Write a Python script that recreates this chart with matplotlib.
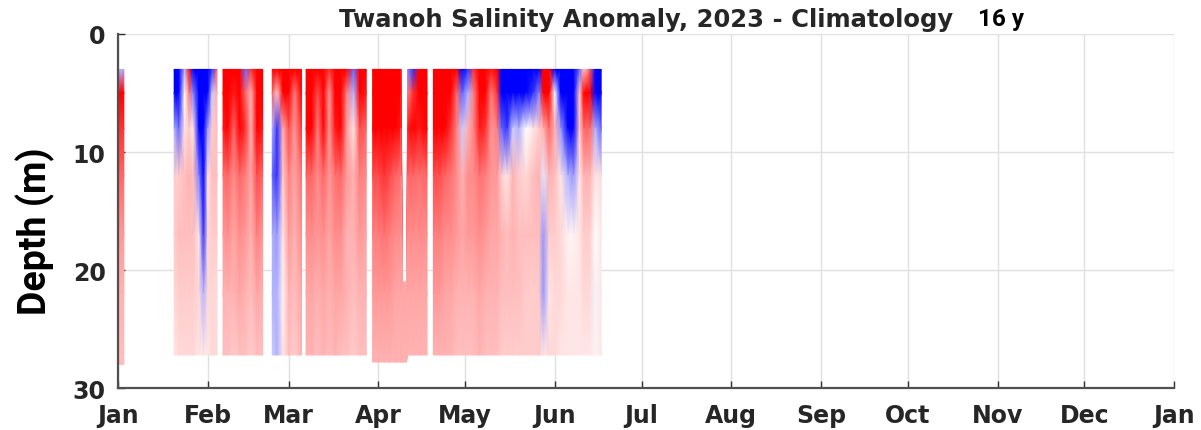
import numpy as np
import matplotlib.pyplot as plt
from matplotlib.colors import LinearSegmentedColormap

# --- axes labelling ---
month_days = [0, 31, 59, 90, 120, 151, 181, 212, 243, 273, 304, 334, 365]
month_labels = ['Jan', 'Feb', 'Mar', 'Apr', 'May', 'Jun', 'Jul',
                'Aug', 'Sep', 'Oct', 'Nov', 'Dec', 'Jan']
depth_ticks = [0, 10, 20, 30]

# --- profiles (day of year, anomaly at depth levels) ---
depth_levels = [3, 5, 8, 12, 17, 22, 27.5]   # last level is replaced by profile bottom

prof_day = [0.0, 2.0,
            19.4, 21.0, 23.0, 24.5, 26.0, 28.0, 29.5, 31.0, 32.5, 34.2,
            36.3, 38.0, 40.0, 42.0, 44.0, 46.0, 48.0, 50.0,
            53.3, 55.0, 57.0, 59.0, 61.0, 63.4,
            65.0, 67.0, 69.0, 71.0, 73.0, 75.0, 77.0, 79.0, 81.5, 83.5, 85.8,
            88.0, 90.0, 92.0, 94.0, 96.0, 97.8, 98.3, 99.7, 100.2, 102.0, 104.0, 106.8,
            109.0, 111.0, 113.0, 115.0, 117.0, 119.0, 121.0, 123.0, 125.0, 127.0, 129.0,
            131.0, 132.5, 134.5, 136.5, 138.5, 141.0, 143.5, 145.5, 147.0, 149.0, 151.0,
            153.0, 155.5, 157.5, 159.5, 161.0, 163.0, 165.0, 167.0]
prof_seg = [0, 0,
            1, 1, 1, 1, 1, 1, 1, 1, 1, 1,
            2, 2, 2, 2, 2, 2, 2, 2,
            3, 3, 3, 3, 3, 3,
            4, 4, 4, 4, 4, 4, 4, 4, 4, 4, 4,
            5, 5, 5, 5, 5, 5, 5, 5, 5, 5, 5, 5,
            6, 6, 6, 6, 6, 6, 6, 6, 6, 6, 6,
            6, 6, 6, 6, 6, 6, 6, 6, 6, 6, 6,
            6, 6, 6, 6, 6, 6, 6, 6]
prof_bot = [28.0, 28.0,
            27.2, 27.2, 27.2, 27.2, 27.2, 27.2, 27.2, 27.2, 27.2, 27.2,
            27.2, 27.2, 27.2, 27.2, 27.2, 27.2, 27.2, 27.2,
            27.2, 27.2, 27.2, 27.2, 27.2, 27.2,
            27.2, 27.2, 27.2, 27.2, 27.2, 27.2, 27.2, 27.2, 27.2, 27.2, 27.2,
            27.8, 27.8, 27.8, 27.8, 27.8, 27.8, 27.8, 27.8, 27.2, 27.2, 27.2, 27.2,
            27.2, 27.2, 27.2, 27.2, 27.2, 27.2, 27.2, 27.2, 27.2, 27.2, 27.2,
            27.2, 27.2, 27.2, 27.2, 27.2, 27.2, 27.2, 27.2, 27.2, 27.2, 27.2,
            27.2, 27.2, 27.2, 27.2, 27.2, 27.2, 27.2, 27.2]
# profiles that start deeper than the usual 3 m
shallow_top = {98.3: 21.0, 99.7: 21.0}

anom = [
    [-0.3, 1.0, 0.8, 0.6, 0.4, 0.3, 0.25],
    [-0.3, 1.0, 0.8, 0.6, 0.4, 0.3, 0.25],
    # late January
    [-1.5, -1.2, -0.3, 0.2, 0.2, 0.15, 0.1],
    [-1.5, -1.5, -0.6, 0.2, 0.25, 0.2, 0.15],
    [-0.3, 0.0, 0.1, 0.25, 0.25, 0.2, 0.15],
    [0.9, 0.5, 0.2, 0.3, 0.25, 0.2, 0.15],
    [-1.2, -0.5, 0.1, 0.25, 0.25, 0.2, 0.15],
    [-1.5, -1.5, -1.2, -0.5, 0.1, 0.15, 0.1],
    [-1.5, -1.5, -1.5, -1.2, -0.8, -0.3, 0.1],
    [-1.5, -1.2, -0.4, 0.1, 0.15, 0.15, 0.1],
    [-0.8, -0.2, 0.2, 0.25, 0.2, 0.15, 0.15],
    [0.6, 0.3, 0.25, 0.25, 0.2, 0.15, 0.15],
    # February
    [1.5, 1.3, 0.9, 0.55, 0.4, 0.3, 0.25],
    [1.5, 1.5, 1.0, 0.6, 0.45, 0.3, 0.25],
    [1.2, 0.9, 0.6, 0.45, 0.35, 0.3, 0.2],
    [1.5, 1.5, 1.0, 0.6, 0.45, 0.35, 0.25],
    [-0.6, 0.6, 0.8, 0.5, 0.4, 0.3, 0.25],
    [0.8, 0.3, 0.3, 0.35, 0.3, 0.25, 0.2],
    [1.5, 1.5, 1.2, 0.7, 0.5, 0.35, 0.25],
    [1.5, 1.2, 0.9, 0.6, 0.4, 0.3, 0.25],
    # late February / early March
    [1.2, 0.6, -0.3, -0.6, -0.3, -0.3, -0.2],
    [1.0, 0.2, -0.8, -0.8, -0.4, -0.3, -0.3],
    [1.5, 1.0, 0.3, 0.2, 0.1, 0.05, 0.1],
    [1.5, 1.2, 0.7, 0.5, 0.4, 0.3, 0.25],
    [1.0, 0.5, 0.4, 0.35, 0.3, 0.25, 0.2],
    [1.5, 1.2, 0.8, 0.55, 0.45, 0.35, 0.3],
    # March
    [1.5, 1.5, 1.0, 0.6, 0.45, 0.35, 0.3],
    [1.5, 1.5, 1.1, 0.6, 0.45, 0.35, 0.3],
    [1.2, 0.7, 0.5, 0.45, 0.4, 0.3, 0.25],
    [1.5, 1.5, 1.0, 0.6, 0.45, 0.35, 0.3],
    [0.8, 0.4, 0.4, 0.4, 0.35, 0.3, 0.25],
    [1.5, 1.3, 0.9, 0.55, 0.45, 0.35, 0.3],
    [1.5, 1.5, 1.0, 0.6, 0.45, 0.35, 0.25],
    [1.0, 0.5, 0.4, 0.4, 0.3, 0.3, 0.25],
    [-0.6, -0.3, 0.1, 0.3, 0.3, 0.25, 0.2],
    [1.5, 1.2, 0.7, 0.5, 0.4, 0.3, 0.25],
    [1.3, 0.9, 0.6, 0.45, 0.35, 0.3, 0.25],
    # April
    [1.5, 1.5, 1.2, 0.7, 0.5, 0.4, 0.3],
    [1.5, 1.5, 1.2, 0.7, 0.5, 0.4, 0.3],
    [1.5, 1.5, 1.3, 0.8, 0.55, 0.4, 0.3],
    [1.5, 1.5, 1.2, 0.7, 0.5, 0.4, 0.3],
    [1.5, 1.5, 1.0, 0.6, 0.45, 0.35, 0.3],
    [1.5, 1.3, 0.9, 0.55, 0.45, 0.35, 0.3],
    [0.35, 0.35, 0.35, 0.35, 0.35, 0.35, 0.3],
    [0.35, 0.35, 0.35, 0.35, 0.35, 0.35, 0.3],
    [-0.5, 0.5, 0.9, 0.6, 0.45, 0.35, 0.3],
    [-0.8, 0.8, 1.0, 0.6, 0.45, 0.35, 0.3],
    [1.5, 1.2, 0.9, 0.55, 0.45, 0.35, 0.3],
    [1.5, 1.5, 1.0, 0.6, 0.45, 0.35, 0.3],
    # late April - June
    [1.5, 1.5, 1.2, 0.7, 0.5, 0.4, 0.3],
    [1.5, 1.5, 1.2, 0.7, 0.5, 0.4, 0.3],
    [1.5, 1.3, 1.0, 0.6, 0.45, 0.35, 0.3],
    [1.2, 1.0, 0.8, 0.55, 0.45, 0.35, 0.3],
    [1.0, 0.6, 0.5, 0.45, 0.4, 0.3, 0.25],
    [-1.2, -0.6, -0.2, 0.3, 0.35, 0.3, 0.25],
    [-0.8, -0.3, 0.3, 0.45, 0.4, 0.3, 0.25],
    [0.8, 0.5, 0.5, 0.45, 0.4, 0.3, 0.25],
    [1.5, 1.3, 0.9, 0.55, 0.45, 0.35, 0.3],
    [1.5, 1.2, 0.8, 0.5, 0.4, 0.3, 0.25],
    [0.9, 0.5, 0.4, 0.4, 0.35, 0.3, 0.25],
    [1.2, 0.8, 0.5, 0.4, 0.35, 0.3, 0.25],
    [-1.5, -1.5, -0.6, 0.2, 0.3, 0.25, 0.2],
    [-1.5, -1.5, -0.8, 0.1, 0.25, 0.25, 0.2],
    [-1.5, -1.2, -0.2, 0.3, 0.3, 0.25, 0.2],
    [-1.5, -1.3, -0.3, 0.2, 0.25, 0.25, 0.2],
    [-1.5, -1.0, 0.0, 0.15, 0.25, 0.2, 0.2],
    [-1.5, -0.8, 0.1, 0.25, 0.25, 0.2, 0.2],
    [-1.5, -0.5, 0.2, 0.3, 0.25, 0.2, 0.2],
    [1.2, 1.0, 0.3, -0.1, -0.4, -0.4, 0.1],
    [1.5, 1.5, 0.6, 0.3, 0.2, 0.1, 0.15],
    [-1.0, 0.0, 0.3, 0.25, 0.2, 0.15, 0.15],
    [-1.5, -1.5, -0.4, 0.1, 0.15, 0.15, 0.1],
    [-1.5, -1.5, -1.0, -0.3, 0.05, 0.1, 0.1],
    [-1.5, -1.5, -1.2, -0.4, 0.05, 0.1, 0.1],
    [-0.6, 0.2, 0.2, 0.1, 0.1, 0.1, 0.1],
    [0.2, 1.2, 0.6, 0.3, 0.2, 0.15, 0.1],
    [0.6, 1.2, 0.6, 0.3, 0.2, 0.15, 0.1],
    [-1.5, -1.2, -0.3, 0.1, 0.0, -0.05, 0.05],
    [-1.5, -1.5, -0.6, 0.15, 0.1, 0.1, 0.1],
]

cmap = LinearSegmentedColormap.from_list('bwr_sat', ['#0000ff', '#ffffff', '#ff0000'])

fig = plt.figure(figsize=(12.01, 4.31), dpi=100)
ax = fig.add_axes([0.0983, 0.0974, 0.8792, 0.8214])

days = np.array(prof_day)
segs = np.array(prof_seg)
vals = np.array(anom).T          # depth x profile
for s in np.unique(segs):
    idx = np.where(segs == s)[0]
    d = days[idx]
    X = np.tile(d, (len(depth_levels), 1))
    Y = np.tile(np.array(depth_levels, dtype=float)[:, None], (1, len(idx)))
    Y[-1, :] = np.array(prof_bot)[idx]
    for j, dd in enumerate(d):
        top = shallow_top.get(dd, depth_levels[0])
        Y[:, j] = np.maximum(Y[:, j], top)
    ax.pcolormesh(X, Y, vals[:, idx], cmap=cmap, vmin=-1, vmax=1,
                  shading='gouraud', zorder=2)

ax.set_xlim(0, 365)
ax.set_ylim(30, 0)
ax.set_xticks(month_days)
ax.set_xticklabels(month_labels)
ax.set_yticks(depth_ticks)
ax.grid(True, color='#e0e0e0', linewidth=1.0, zorder=0)
ax.set_axisbelow(True)
for side in ('top', 'right'):
    ax.spines[side].set_visible(False)
for side in ('left', 'bottom'):
    ax.spines[side].set_color('#505050')
    ax.spines[side].set_linewidth(1.6)
ax.tick_params(direction='in', length=5, width=1.0, color='#303030',
               labelsize=17, labelcolor='#262626')
ax.tick_params(axis='x', pad=11)
ax.tick_params(axis='y', pad=9)
for lab in ax.get_xticklabels() + ax.get_yticklabels():
    lab.set_fontweight('bold')

ax.set_title('Twanoh Salinity Anomaly, 2023 - Climatology', fontsize=17.5,
             fontweight='bold', color='#262626', pad=6)
fig.text(0.814, 0.954, '16 y', fontsize=17.5, fontweight='bold',
         family=['Roboto', 'DejaVu Sans'], color='black', va='center')
fig.text(0.029, 0.464, 'Depth (m)', fontsize=27, fontweight='bold',
         family=['Roboto', 'DejaVu Sans'], rotation=90, ha='center', va='center')

fig.savefig('out.png', dpi=100)
